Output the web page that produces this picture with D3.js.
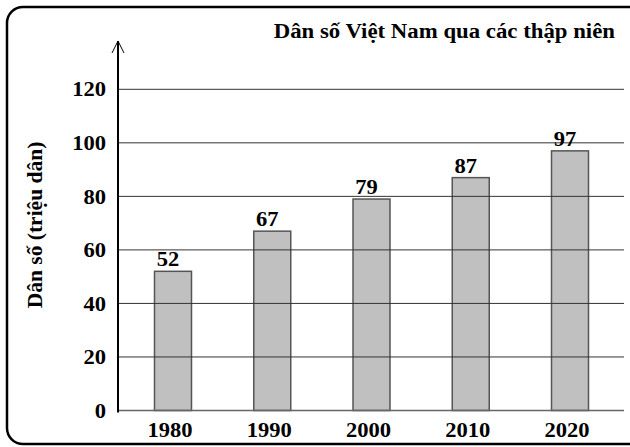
<!DOCTYPE html>
<html>
<head>
<meta charset="utf-8">
<script src="https://cdn.jsdelivr.net/npm/d3@7"></script>
<style>
  body { margin: 0; background: #fff; }
</style>
</head>
<body>
<div id="chart"></div>
<script>
// data
var years = ["1980", "1990", "2000", "2010", "2020"];
var population = [52, 67, 79, 87, 97];
var yTicks = [0, 20, 40, 60, 80, 100, 120];

var svgWidth = 630;
var svgHeight = 447;
var serif = "'Liberation Serif', 'Times New Roman', Times, serif";

var svg = d3.select("#chart")
  .append("svg")
  .attr("width", svgWidth)
  .attr("height", svgHeight)
  .attr("font-family", serif)
  .attr("font-weight", "bold");

// the original picture is a bit wider than tall, so text is stretched in x
function place(x, y, sx) {
  return "translate(" + x + "," + y + ") scale(" + sx + ",1)";
}

// frame
svg.append("rect")
  .attr("x", 7)
  .attr("y", 7)
  .attr("width", 650)
  .attr("height", 437)
  .attr("rx", 16)
  .attr("fill", "none")
  .attr("stroke", "#000")
  .attr("stroke-width", 2.5);

// scales
var yScale = d3.scaleLinear()
  .domain([0, 120])
  .range([410.5, 89.3]);

var xScale = d3.scalePoint()
  .domain(years)
  .range([173, 570]);

var barWidth = 37;
var axisX = 118;

// bars (under the grid)
svg.selectAll(".bar")
  .data(years)
  .enter()
  .append("rect")
  .attr("class", "bar")
  .attr("x", d => xScale(d) - barWidth / 2)
  .attr("y", (d, i) => yScale(population[i]))
  .attr("width", barWidth)
  .attr("height", (d, i) => yScale(0) - yScale(population[i]))
  .attr("fill", "#c0c0c0")
  .attr("stroke", "#555")
  .attr("stroke-width", 1.5);

// gridlines
svg.selectAll(".grid")
  .data(yTicks.filter(d => d > 0))
  .enter()
  .append("line")
  .attr("class", "grid")
  .attr("x1", axisX)
  .attr("x2", 624)
  .attr("y1", d => yScale(d))
  .attr("y2", d => yScale(d))
  .attr("stroke", "#333")
  .attr("stroke-width", 1);

// baseline
svg.append("line")
  .attr("x1", axisX)
  .attr("x2", 624)
  .attr("y1", yScale(0))
  .attr("y2", yScale(0))
  .attr("stroke", "#666")
  .attr("stroke-width", 1.5);

// y axis with open arrow
svg.append("line")
  .attr("x1", axisX)
  .attr("x2", axisX)
  .attr("y1", 41)
  .attr("y2", 412.5)
  .attr("stroke", "#000")
  .attr("stroke-width", 2);

svg.append("path")
  .attr("d", "M" + (axisX - 6) + ",53L" + axisX + ",41L" + (axisX + 6) + ",53")
  .attr("fill", "none")
  .attr("stroke", "#000")
  .attr("stroke-width", 1);

// y tick labels
svg.selectAll(".ytick")
  .data(yTicks)
  .enter()
  .append("text")
  .attr("class", "ytick")
  .attr("transform", d => place(106, yScale(d), 1.1))
  .attr("dy", "0.35em")
  .attr("text-anchor", "end")
  .attr("font-size", 20.5)
  .text(d => d);

// x tick labels
svg.selectAll(".xtick")
  .data(years)
  .enter()
  .append("text")
  .attr("class", "xtick")
  .attr("transform", d => place(xScale(d) - 3, 437, 1.1))
  .attr("text-anchor", "middle")
  .attr("font-size", 20.5)
  .text(d => d);

// value labels
svg.selectAll(".val")
  .data(years)
  .enter()
  .append("text")
  .attr("class", "val")
  .attr("transform", (d, i) => place(xScale(d) - 5, yScale(population[i]) - 5, 1.1))
  .attr("text-anchor", "middle")
  .attr("font-size", 20.5)
  .text((d, i) => population[i]);

// title
svg.append("text")
  .attr("transform", place(615, 37.5, 1.14))
  .attr("text-anchor", "end")
  .attr("font-size", 20)
  .text("Dân số Việt Nam qua các thập niên");

// y axis title
svg.append("text")
  .attr("transform", "translate(42, 225) rotate(-90)")
  .attr("text-anchor", "middle")
  .attr("font-size", 21.5)
  .text("Dân số (triệu dân)");
</script>
</body>
</html>
